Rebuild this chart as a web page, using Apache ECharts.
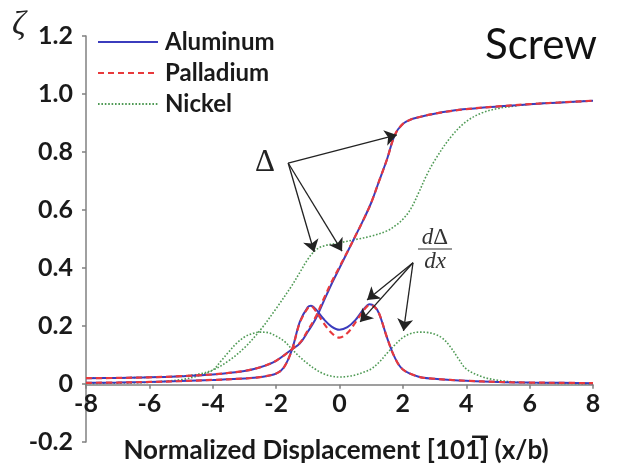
<!DOCTYPE html>
<html>
<head>
<meta charset="utf-8">
<script src="https://cdn.jsdelivr.net/npm/echarts@6/dist/echarts.min.js"></script>
<style>
  html, body { margin: 0; padding: 0; background: #fff; }
  #chart { width: 619px; height: 469px; }
</style>
</head>
<body>
<div id="chart"></div>
<script>
// Disregistry profile (Δ) and its gradient (dΔ/dx) along the glide plane, screw core
const materials = ['Aluminum', 'Palladium', 'Nickel'];

// Aluminum
const alDeltaX = [-8, -7, -6, -5, -4, -3, -2.5, -2, -1.5, -1.25, -1, -0.75, -0.5, -0.25, 0, 0.25, 0.5, 0.75, 1, 1.25, 1.5, 1.75, 2, 2.25, 2.5, 3, 3.5, 4, 5, 6, 7, 8];
const alDelta  = [0.02, 0.021, 0.023, 0.027, 0.033, 0.045, 0.058, 0.08, 0.12, 0.14, 0.18, 0.225, 0.285, 0.345, 0.4, 0.455, 0.51, 0.565, 0.625, 0.7, 0.775, 0.86, 0.897, 0.912, 0.92, 0.932, 0.941, 0.948, 0.957, 0.965, 0.971, 0.977];
const alSlopeX = [-8, -7, -6, -5, -4, -3, -2.5, -2, -1.75, -1.5, -1.25, -1, -0.9, -0.75, -0.5, -0.25, 0, 0.25, 0.5, 0.75, 0.95, 1.1, 1.25, 1.5, 1.75, 2, 2.5, 3, 3.5, 4, 5, 6, 7, 8];
const alSlope  = [0.004, 0.005, 0.007, 0.01, 0.014, 0.019, 0.024, 0.036, 0.058, 0.118, 0.215, 0.265, 0.27, 0.258, 0.224, 0.198, 0.187, 0.196, 0.22, 0.256, 0.275, 0.268, 0.243, 0.16, 0.09, 0.05, 0.025, 0.018, 0.014, 0.011, 0.007, 0.005, 0.004, 0.003];

// Palladium
const pdDeltaX = [-8, -7, -6, -5, -4, -3, -2.5, -2, -1.5, -1.25, -1, -0.75, -0.5, -0.25, 0, 0.25, 0.5, 0.75, 1, 1.25, 1.5, 1.75, 2, 2.25, 2.5, 3, 3.5, 4, 5, 6, 7, 8];
const pdDelta  = [0.02, 0.021, 0.023, 0.027, 0.033, 0.045, 0.058, 0.08, 0.12, 0.142, 0.185, 0.232, 0.293, 0.352, 0.404, 0.456, 0.51, 0.565, 0.625, 0.7, 0.775, 0.86, 0.897, 0.912, 0.92, 0.932, 0.941, 0.948, 0.957, 0.965, 0.971, 0.977];
const pdSlopeX = [-8, -7, -6, -5, -4, -3, -2.5, -2, -1.75, -1.5, -1.25, -1, -0.9, -0.75, -0.5, -0.25, 0, 0.25, 0.5, 0.75, 0.95, 1.1, 1.25, 1.5, 1.75, 2, 2.5, 3, 3.5, 4, 5, 6, 7, 8];
const pdSlope  = [0.004, 0.005, 0.007, 0.01, 0.014, 0.019, 0.024, 0.036, 0.058, 0.118, 0.212, 0.262, 0.268, 0.252, 0.21, 0.176, 0.16, 0.176, 0.212, 0.252, 0.272, 0.266, 0.243, 0.16, 0.09, 0.05, 0.025, 0.018, 0.014, 0.011, 0.007, 0.005, 0.004, 0.003];

// Nickel
const niDeltaX = [-8, -6, -5, -4.5, -4, -3.5, -3, -2.5, -2, -1.5, -1.25, -1, -0.75, -0.5, 0, 0.5, 1, 1.5, 1.75, 2, 2.25, 2.5, 2.75, 3, 3.5, 4, 4.5, 5, 5.5, 6, 7, 8];
const niDelta  = [0.02, 0.023, 0.027, 0.033, 0.048, 0.08, 0.125, 0.186, 0.26, 0.34, 0.385, 0.43, 0.462, 0.476, 0.487, 0.498, 0.51, 0.528, 0.545, 0.568, 0.604, 0.66, 0.72, 0.77, 0.85, 0.905, 0.935, 0.95, 0.958, 0.965, 0.971, 0.977];
const niSlopeX = [-8, -7, -6, -5, -4.5, -4, -3.75, -3.5, -3.25, -3, -2.75, -2.5, -2.25, -2, -1.75, -1.5, -1.25, -1, -0.75, -0.5, -0.25, 0, 0.25, 0.5, 0.75, 1, 1.25, 1.5, 1.75, 2, 2.25, 2.5, 2.75, 3, 3.25, 3.5, 3.75, 4, 4.5, 5, 5.5, 6, 7, 8];
const niSlope  = [0.002, 0.003, 0.006, 0.015, 0.027, 0.048, 0.078, 0.11, 0.14, 0.162, 0.174, 0.179, 0.177, 0.165, 0.148, 0.12, 0.093, 0.07, 0.05, 0.035, 0.027, 0.024, 0.026, 0.031, 0.04, 0.052, 0.075, 0.106, 0.135, 0.16, 0.174, 0.179, 0.178, 0.172, 0.158, 0.128, 0.088, 0.052, 0.025, 0.013, 0.007, 0.004, 0.002, 0.001];

// Axis ticks
const xTicks = [-8, -6, -4, -2, 0, 2, 4, 6, 8];
const yTickLabels = ['-0.2', '0', '0.2', '0.4', '0.6', '0.8', '1.0', '1.2'];

const pair = (xs, ys) => xs.map((x, i) => [x, ys[i]]);

const LABEL_FONT = 'Lato, "Open Sans", sans-serif';
const SERIF = '"Liberation Serif", "DejaVu Serif", serif';
const colors = { Aluminum: '#3b3cbd', Palladium: '#e8393c', Nickel: '#4f9a55' };
const styles = {
  Aluminum: { width: 2, type: 'solid' },
  Palladium: { width: 2.2, type: [6, 4] },
  Nickel: { width: 1.6, type: [1.6, 1.8] }
};

function curve(name, xs, ys, z) {
  return {
    name: name,
    type: 'line',
    data: pair(xs, ys),
    symbol: 'none',
    showSymbol: false,
    smooth: 0.35,
    z: z,
    lineStyle: { color: colors[name], width: styles[name].width, type: styles[name].type },
    itemStyle: { color: colors[name] },
    silent: true
  };
}

const chart = echarts.init(document.getElementById('chart'), null, { renderer: 'canvas' });

const arrowPairs = [
  // Δ arrows
  [[-1.62, 0.762], [1.81, 0.859]],
  [[-1.62, 0.762], [-0.8, 0.455]],
  [[-1.62, 0.762], [0.08, 0.458]],
  // dΔ/dx arrows
  [[2.32, 0.418], [0.87, 0.29]],
  [[2.32, 0.418], [0.65, 0.214]],
  [[2.32, 0.418], [2.02, 0.183]]
];

const axisGray = '#808080';

chart.setOption({
  animation: false,
  backgroundColor: '#ffffff',
  grid: { left: 86, right: 26, top: 36, bottom: 27, containLabel: false },
  legend: {
    data: materials,
    orient: 'vertical',
    left: 92,
    top: 25,
    itemWidth: 60,
    itemHeight: 12,
    itemGap: 7,
    itemStyle: { opacity: 0 },
    textStyle: { fontFamily: LABEL_FONT, fontWeight: 'bold', fontSize: 24, color: '#1a1a1a', padding: [0, 0, 0, 2] }
  },
  xAxis: {
    type: 'value',
    min: -8,
    max: 8,
    interval: 2,
    splitLine: { show: false },
    axisLine: { onZero: false, lineStyle: { color: axisGray, width: 1.5 } },
    axisTick: { show: true, length: 4, lineStyle: { color: axisGray, width: 1.5 } },
    axisLabel: {
      margin: 7,
      fontFamily: LABEL_FONT, fontWeight: 'bold', fontSize: 25, color: '#1a1a1a',
      formatter: v => String(xTicks[xTicks.indexOf(v)])
    }
  },
  yAxis: {
    type: 'value',
    min: -0.2,
    max: 1.2,
    interval: 0.2,
    splitLine: { show: false },
    axisLine: { onZero: false, lineStyle: { color: axisGray, width: 1.5 } },
    axisTick: { show: true, length: 4, lineStyle: { color: axisGray, width: 1.5 } },
    axisLabel: {
      margin: 13,
      fontFamily: LABEL_FONT, fontWeight: 'bold', fontSize: 25, color: '#1a1a1a',
      formatter: (v, i) => yTickLabels[i]
    }
  },
  series: [
    curve('Nickel', niDeltaX, niDelta, 2),
    curve('Nickel', niSlopeX, niSlope, 2),
    curve('Aluminum', alDeltaX, alDelta, 3),
    curve('Aluminum', alSlopeX, alSlope, 3),
    curve('Palladium', pdDeltaX, pdDelta, 4),
    curve('Palladium', pdSlopeX, pdSlope, 4),
    {
      type: 'line',
      data: [],
      silent: true,
      z: 5,
      markLine: {
        silent: true,
        animation: false,
        symbol: ['none', 'arrow'],
        symbolSize: 12,
        label: { show: false },
        lineStyle: { color: '#222', width: 1.3, type: 'solid' },
        itemStyle: { color: '#222' },
        data: arrowPairs.map(p => [{ coord: p[0] }, { coord: p[1] }])
      }
    }
  ],
  graphic: [
    { type: 'text', left: 12, top: 8, style: { text: 'ζ', font: 'italic 34px ' + SERIF, fill: '#222' } },
    { type: 'text', left: 485, top: 24, style: { text: 'Screw', font: '42px ' + LABEL_FONT, fill: '#111' } },
    { type: 'text', x: 265, y: 163, style: { text: 'Δ', font: '31px ' + SERIF, fill: '#222', textAlign: 'center', textVerticalAlign: 'middle' } },
    {
      type: 'text', x: 435, y: 238,
      style: {
        text: '{i|d}{u|Δ}', textAlign: 'center', textVerticalAlign: 'middle',
        rich: { i: { font: 'italic 23px ' + SERIF, fill: '#333' }, u: { font: '23px ' + SERIF, fill: '#333' } }
      }
    },
    { type: 'line', shape: { x1: 418, y1: 249, x2: 452, y2: 249 }, style: { stroke: '#333', lineWidth: 1.2 } },
    { type: 'text', x: 435, y: 262, style: { text: 'dx', font: 'italic 23px ' + SERIF, fill: '#333', textAlign: 'center', textVerticalAlign: 'middle' } },
    {
      type: 'text', x: 336, y: 451,
      style: {
        text: 'Normalized Displacement [10\u0031\u0305] (x/b)',
        font: 'bold 26px ' + LABEL_FONT, fill: '#1a1a1a', textAlign: 'center', textVerticalAlign: 'middle'
      }
    }
  ]
});

// The horizontal axis crosses the vertical one at ζ = 0: lift it from the grid's
// bottom edge to wherever the y scale puts zero.
const gridRect = chart.getModel().getComponent('grid').coordinateSystem.getRect();
const zeroY = chart.convertToPixel({ yAxisIndex: 0 }, 0);
chart.setOption({ xAxis: { offset: -(gridRect.y + gridRect.height - zeroY) } });
</script>
</body>
</html>
